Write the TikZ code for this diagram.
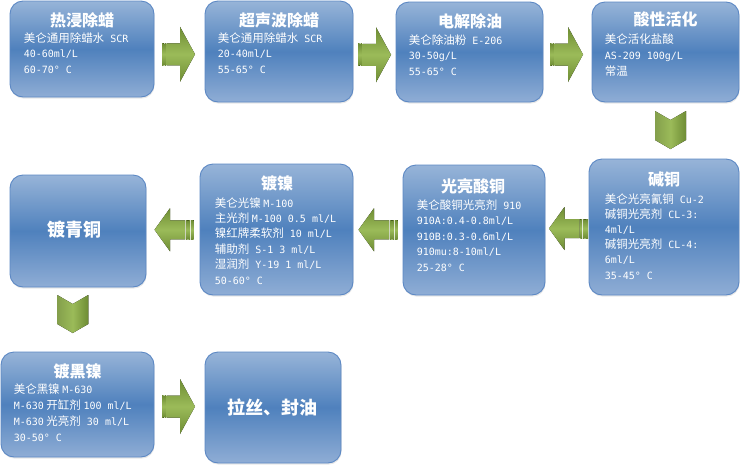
\documentclass[tikz,border=0pt]{standalone}
\usepackage{fontspec}
\setmainfont{Noto Sans CJK SC}
\newfontfamily\monofam{DejaVu Sans Mono}
\newcommand\m[1]{{\monofam\fontsize{10}{12}\selectfont #1}}
\usetikzlibrary{calc,shadows}
\definecolor{blTop}{RGB}{151,180,216}
\definecolor{blMid}{RGB}{79,129,189}
\definecolor{blBot}{RGB}{143,173,213}
\definecolor{blEdge}{RGB}{92,136,196}
\definecolor{grMid}{RGB}{155,187,89}
\definecolor{grDark}{RGB}{110,140,52}
\tikzset{
  box/.style={draw=blEdge, line width=0.9pt, rounded corners=13pt,
    top color=blTop, bottom color=blBot, middle color=blMid, inner sep=0pt,
    drop shadow={opacity=0.18, shadow xshift=0.6pt, shadow yshift=-1.6pt}},
  ttl/.style={text=white, font=\bfseries\fontsize{16}{16}\selectfont, inner sep=0pt},
  bigttl/.style={text=white, font=\bfseries\fontsize{18}{18}\selectfont, inner sep=0pt},
  txt/.style={text=white, font=\fontsize{11.5}{12}\selectfont, inner sep=0pt, anchor=base west},
  arrfill/.style={top color=grDark, bottom color=grDark, middle color=grMid, draw=none},
  chevfill/.style={left color=grMid!85!black, right color=grDark, middle color=grMid, draw=none},
  rarrow/.pic={
    \fill[arrfill] (-16.5,-11) rectangle (-14.8,11);
    \fill[arrfill] (-14.0,-11) rectangle (-12.6,11);
    \fill[arrfill] (-11.8,-11) -- (1.5,-11) -- (1.5,-27.5) -- (16.5,0)
       -- (1.5,27.5) -- (1.5,11) -- (-11.8,11) -- cycle;
  },
  larrow/.pic={
    \fill[arrfill] (-19.5,0) -- (-4,-21.5) -- (-4,-9.5) -- (11,-9.5)
       -- (11,9.5) -- (-4,9.5) -- (-4,21.5) -- cycle;
    \fill[arrfill] (11.8,-9.5) rectangle (13.6,9.5);
    \fill[arrfill] (14.4,-9.5) rectangle (16,9.5);
    \fill[arrfill] (16.8,-9.5) rectangle (19.5,9.5);
  },
  darrow/.pic={
    \fill[chevfill] (-15.5,-19) -- (0,-10) -- (15.5,-19) -- (15.5,10)
       -- (0,19) -- (-15.5,10) -- cycle;
  },
}
\newcommand\boxlines[5]{%
  \foreach \t [count=\i] in {#5} {
    \node[txt] (#1l\i) at ($(#1.north west)+(#2,{#3+#4*(\i-1)})$) {\t};
  }%
}
\begin{document}
\begin{tikzpicture}[x=1pt,y=-1pt]
\useasboundingbox (0,0) rectangle (740,464);
% boxes
\node[box, minimum width=144pt, minimum height=96pt]  (b1) at (82,49) {};
\node[box, minimum width=148pt, minimum height=101pt] (b2) at (279,51.5) {};
\node[box, minimum width=147pt, minimum height=100pt] (b3) at (469.5,52) {};
\node[box, minimum width=147pt, minimum height=100pt] (b4) at (665.5,52) {};
\node[box, minimum width=150pt, minimum height=136pt] (b5) at (664,227) {};
\node[box, minimum width=142pt, minimum height=130pt] (b6) at (474,230) {};
\node[box, minimum width=153pt, minimum height=131pt] (b7) at (276.5,229.5) {};
\node[box, minimum width=136pt, minimum height=112pt] (b8) at (78,231) {};
\node[box, minimum width=153pt, minimum height=105pt] (b9) at (77.5,404.5) {};
\node[box, minimum width=136pt, minimum height=111pt] (b10) at (273,407.5) {};
% titles
\node[ttl] (b1t) at ($(b1.north)+(0,20)$) {热浸除蜡};
\node[ttl] (b2t) at ($(b2.north)+(0,20)$) {超声波除蜡};
\node[ttl] (b3t) at ($(b3.north)+(0.5,20)$) {电解除油};
\node[ttl] (b4t) at ($(b4.north)+(0,18)$) {酸性活化};
\node[ttl] (b5t) at ($(b5.north)+(0,21)$) {碱铜};
\node[ttl] (b6t) at ($(b6.north)+(-1,22)$) {光亮酸铜};
\node[ttl] (b7t) at ($(b7.north)+(0.5,20)$) {镀镍};
\node[ttl] (b9t) at ($(b9.north)+(0,20)$) {镀黑镍};
\node[bigttl] (b8t) at ($(b8.center)+(-4,-1)$) {镀青铜};
\node[bigttl] (b10t) at ($(b10.center)+(-1,-0.5)$) {拉丝、封油};
% body lines
\boxlines{b1}{14}{41.5}{15.5}{美仑通用除蜡水\m{ SCR}, \m{40-60ml/L}, \m{60-70° C}}
\boxlines{b2}{13}{41.5}{15.5}{美仑通用除蜡水\m{ SCR}, \m{20-40ml/L}, \m{55-65° C}}
\boxlines{b3}{13}{42.5}{15.5}{美仑除油粉\m{ E-206}, \m{30-50g/L}, \m{55-65° C}}
\boxlines{b4}{13}{41.5}{16}{美仑活化盐酸, \m{AS-209 100g/L}, 常温}
\boxlines{b5}{16}{44.5}{15.2}{美仑光亮氰铜\m{ Cu-2}, 碱铜光亮剂\m{ CL-3:}, \m{4ml/L}, 碱铜光亮剂\m{ CL-4:}, \m{6ml/L}, \m{35-45° C}}
\boxlines{b6}{14}{44.5}{15.5}{美仑酸铜光亮剂\m{ 910}, \m{910A:0.4-0.8ml/L}, \m{910B:0.3-0.6ml/L}, \m{910mu:8-10ml/L}, \m{25-28° C}}
\boxlines{b7}{15}{43.5}{15.4}{美仑光镍 \m{M-100}, 主光剂 \m{M-100 0.5 ml/L}, 镍红牌柔软剂\m{ 10 ml/L}, 辅助剂\m{ S-1 3 ml/L}, 湿润剂\m{ Y-19 1 ml/L}, \m{50-60° C}}
\boxlines{b9}{13}{41.5}{16}{美仑黑镍 \m{M-630}, \m{M-630} 开缸剂 \m{100 ml/L}, \m{M-630} 光亮剂\m{ 30 ml/L}, \m{30-50° C}}
% block arrows between boxes
\pic at ($(b1.east)!.5!(b2.west)+(-1,4)$) {rarrow};
\pic at ($(b2.east)!.5!(b3.west)+(0,3)$) {rarrow};
\pic at ($(b3.east)!.5!(b4.west)+(-1,2.5)$) {rarrow};
\pic at ($(b4.south)!.5!(b5.north)+(5.75,-0.5)$) {darrow};
\pic at ($(b5.west)!.5!(b6.east)+(1.5,0)$) {larrow};
\pic at ($(b6.west)!.5!(b7.east)+(0,0)$) {larrow};
\pic at ($(b7.west)!.5!(b8.east)+(1,-0.5)$) {larrow};
\pic at ($(b8.south)!.5!(b9.north)+(-5,-5.5)$) {darrow};
\pic at ($(b9.east)!.5!(b10.west)+(-1,0.5)$) {rarrow};
\end{tikzpicture}
\end{document}
